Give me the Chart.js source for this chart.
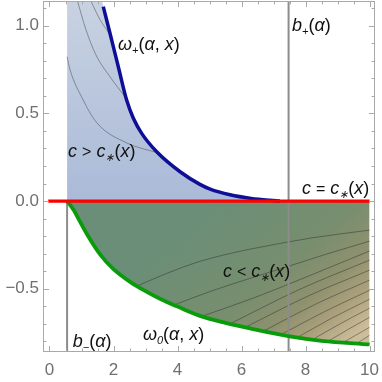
<!DOCTYPE html>
<html><head><meta charset="utf-8">
<script src="https://cdn.jsdelivr.net/npm/chart.js@4.4.1/dist/chart.umd.min.js"></script>
<style>html,body{margin:0;padding:0;background:#fff;}#c{display:block;}</style>
</head><body>
<canvas id="c" width="382" height="382"></canvas>
<script>
// ---- axis ranges and tick labels ----
const X_MIN = -0.203, X_MAX = 10.17, Y_MIN = -0.861, Y_MAX = 1.141;
const xMajorTicks = [0, 2, 4, 6, 8, 10];
const xTickLabels = ['0', '2', '4', '6', '8', '10'];
const yMajorTicks = [-0.5, 0, 0.5, 1.0];
const yTickLabels = ['\u22120.5', '0.0', '0.5', '1.0'];

// ---- vertical boundaries ----
const bMinus = 0.55;
const bPlus = 7.47;

// ---- omega_+ (upper boundary, blue) ----
const omegaPlusTopX = 1.64;
const omegaPlusX = [1.68, 1.89, 2.15, 2.41, 2.62, 2.88, 3.35, 4.08, 4.7, 5.02, 5.64, 6.3, 6.89, 7.2];
const omegaPlusY = [1.109, 0.957, 0.766, 0.576, 0.472, 0.386, 0.281, 0.167, 0.095, 0.068, 0.036, 0.015, 0.004, 0.0];

// ---- omega_0 (lower boundary, green) ----
const omega0X = [0.55, 0.75, 0.95, 1.2, 1.58, 2.0, 2.52, 3.0, 3.5, 4.0, 4.7, 5.5, 6.3, 7.5, 8.5, 10];
const omega0Y = [0, -0.05, -0.116, -0.198, -0.304, -0.388, -0.461, -0.514, -0.562, -0.602, -0.655, -0.695, -0.728, -0.772, -0.797, -0.818];

// ---- c = c*(x) ----
const cStarX = [-0.04, 10];
const cStarY = [0, 0];

// ---- contour lines, upper region ----
const upperContoursX = [
  [0.86, 1.14, 1.45, 1.89, 2.4],
  [1.27, 1.58, 1.85],
  [0.55, 0.64, 1.05, 1.48, 2.42, 3.36]
];
const upperContoursY = [
  [1.15, 0.977, 0.834, 0.709, 0.585],
  [1.15, 1.034, 0.96],
  [0.823, 0.75, 0.577, 0.446, 0.331, 0.276]
];

// ---- contour lines, lower region ----
const lowerContoursX = [
  [2.73, 3.7, 4.61, 5.5, 6.42, 8.2, 10],
  [3.86, 5.11, 6.42, 7.5, 8.7, 10],
  [4.8, 6.42, 8.2, 10],
  [5.64, 7.8, 10],
  [6.17, 8.1, 10],
  [6.7, 8.35, 10],
  [7.2, 8.6, 10],
  [7.7, 8.85, 10],
  [8.2, 9.1, 10],
  [8.7, 9.35, 10],
  [9.17, 10],
  [9.6, 10]
];
const lowerContoursY = [
  [-0.485, -0.41, -0.349, -0.305, -0.269, -0.21, -0.166],
  [-0.595, -0.51, -0.432, -0.37, -0.3, -0.229],
  [-0.655, -0.55, -0.42, -0.285],
  [-0.70, -0.505, -0.337],
  [-0.715, -0.54, -0.394],
  [-0.74, -0.585, -0.451],
  [-0.765, -0.63, -0.509],
  [-0.782, -0.665, -0.56],
  [-0.792, -0.698, -0.611],
  [-0.80, -0.73, -0.663],
  [-0.807, -0.72],
  [-0.812, -0.766]
];

// ---- text labels ----
const textLabels = [
  {x: 2.14, y: 0.861, parts: [['ω','i'],['+','s'],['(','n'],['α','i'],[', ','n'],['x','i'],[')','n']]},
  {x: 7.58, y: 0.97, parts: [['b','i'],['+','s'],['(','n'],['α','i'],[')','n']]},
  {x: 0.58, y: 0.251, parts: [['c','i'],['>','t'],['c','i'],['∗','s'],['(','n'],['x','i'],[')','n']]},
  {x: 7.89, y: 0.04, parts: [['c','i'],['=','t'],['c','i'],['∗','s'],['(','n'],['x','i'],[')','n']]},
  {x: 5.42, y: -0.434, parts: [['c','i'],['<','t'],['c','i'],['∗','s'],['(','n'],['x','i'],[')','n']]},
  {x: 0.73, y: -0.833, parts: [['b','i'],['\u2212','s'],['(','n'],['α','i'],[')','n']]},
  {x: 2.92, y: -0.793, parts: [['ω','i'],['0','s'],['(','n'],['α','i'],[', ','n'],['x','i'],[')','n']]}
];

const pts = (xs, ys) => xs.map((x, i) => ({x: x, y: ys[i]}));

function blueGrad(c) {
  const ch = c.chart;
  if (!ch.chartArea) return 'rgba(176,190,216,1)';
  const ys = ch.scales.y;
  const g = ch.ctx.createLinearGradient(0, ys.getPixelForValue(Y_MAX), 0, ys.getPixelForValue(0));
  g.addColorStop(0, 'rgb(200,210,225)');
  g.addColorStop(1, 'rgb(170,186,216)');
  return g;
}
function greenGrad(c) {
  const ch = c.chart;
  if (!ch.chartArea) return 'rgb(110,140,110)';
  const xs = ch.scales.x, ys = ch.scales.y;
  const g = ch.ctx.createLinearGradient(xs.getPixelForValue(5), ys.getPixelForValue(0),
                                        xs.getPixelForValue(9), ys.getPixelForValue(Y_MIN));
  g.addColorStop(0, 'rgb(106,142,120)');
  g.addColorStop(0.5, 'rgb(120,142,110)');
  g.addColorStop(0.7, 'rgb(142,145,110)');
  g.addColorStop(0.85, 'rgb(172,160,125)');
  g.addColorStop(1, 'rgb(205,190,155)');
  return g;
}

const base = {pointRadius: 0, pointHoverRadius: 0, fill: false, cubicInterpolationMode: 'monotone'};
const datasets = [];
datasets.push(Object.assign({}, base, {
  data: [{x: bMinus, y: Y_MAX}, {x: omegaPlusTopX, y: Y_MAX}].concat(pts(omegaPlusX, omegaPlusY)),
  borderWidth: 0, borderColor: 'rgba(0,0,0,0)', backgroundColor: blueGrad, fill: 'origin', order: 100
}));
datasets.push(Object.assign({}, base, {
  data: pts(omega0X, omega0Y), borderWidth: 0, borderColor: 'rgba(0,0,0,0)',
  backgroundColor: greenGrad, fill: 'origin', order: 99
}));
upperContoursX.forEach((xs, i) => datasets.push(Object.assign({}, base, {
  data: pts(xs, upperContoursY[i]), borderColor: 'rgba(70,70,70,0.5)', borderWidth: 1, order: 60
})));
lowerContoursX.forEach((xs, i) => datasets.push(Object.assign({}, base, {
  data: pts(xs, lowerContoursY[i]), borderColor: 'rgba(40,40,40,0.45)', borderWidth: 1, order: 60
})));
datasets.push(Object.assign({}, base, {
  data: [{x: bMinus, y: Y_MIN}, {x: bMinus, y: 0}], cubicInterpolationMode: 'default', tension: 0,
  borderColor: 'rgb(140,140,140)', borderWidth: 2, order: 40
}));
datasets.push(Object.assign({}, base, {
  data: [{x: bPlus, y: Y_MIN}, {x: bPlus, y: Y_MAX}], cubicInterpolationMode: 'default', tension: 0,
  borderColor: 'rgb(140,140,140)', borderWidth: 2, order: 40
}));
datasets.push(Object.assign({}, base, {
  data: pts(omegaPlusX, omegaPlusY), borderColor: 'rgb(14,14,150)', borderWidth: 3.5, order: 30
}));
datasets.push(Object.assign({}, base, {
  data: pts(omega0X, omega0Y), borderColor: 'rgb(10,155,10)', borderWidth: 3.8, order: 20
}));
datasets.push(Object.assign({}, base, {
  data: pts(cStarX, cStarY), borderColor: 'rgb(255,0,0)', borderWidth: 3.2, tension: 0,
  cubicInterpolationMode: 'default', order: 10
}));

const framePlugin = {
  id: 'frame',
  afterDatasetsDraw(chart) {
    const ctx = chart.ctx, a = chart.chartArea, xs = chart.scales.x, ys = chart.scales.y;
    ctx.save();
    ctx.strokeStyle = '#a9a9a9';
    ctx.lineWidth = 1;
    ctx.strokeRect(a.left + 0.5, a.top + 0.5, a.right - a.left - 1, a.bottom - a.top - 1);
    ctx.beginPath();
    for (let k = 0; k <= 20; k++) {
      const v = k * 0.5;
      const p = Math.round(xs.getPixelForValue(v)) + 0.5;
      const L = (k % 4 === 0) ? 6 : 3.5;
      ctx.moveTo(p, a.bottom); ctx.lineTo(p, a.bottom - L);
      ctx.moveTo(p, a.top); ctx.lineTo(p, a.top + L);
    }
    for (let k = -8; k <= 11; k++) {
      const v = k * 0.1;
      const p = Math.round(ys.getPixelForValue(v)) + 0.5;
      const L = (k % 5 === 0) ? 6 : 3.5;
      ctx.moveTo(a.left, p); ctx.lineTo(a.left + L, p);
      ctx.moveTo(a.right, p); ctx.lineTo(a.right - L, p);
    }
    ctx.stroke();
    ctx.restore();
  },
  afterDraw(chart) {
    const ctx = chart.ctx, xs = chart.scales.x, ys = chart.scales.y;
    const FAM = "'Liberation Sans', Arial, sans-serif";
    ctx.save();
    ctx.fillStyle = '#111';
    ctx.textBaseline = 'alphabetic';
    ctx.textAlign = 'left';
    textLabels.forEach(lab => {
      let px = xs.getPixelForValue(lab.x);
      const py = ys.getPixelForValue(lab.y);
      lab.parts.forEach(([t, st]) => {
        let dy = 0;
        if (st === 'i') ctx.font = 'italic 18px ' + FAM;
        else if (st === 's') { ctx.font = 'italic 11px ' + FAM; dy = 4; }
        else if (st === 't') ctx.font = '16px ' + FAM;
        else ctx.font = '18px ' + FAM;
        if (st === 't') {
          const w = ctx.measureText(t).width;
          px += 5;
          ctx.fillText(t, px, py + dy);
          px += w + 5;
        } else {
          ctx.fillText(t, px, py + dy);
          px += ctx.measureText(t).width;
        }
      });
    });
    ctx.restore();
  }
};

new Chart(document.getElementById('c'), {
  type: 'line',
  data: {datasets: datasets},
  options: {
    responsive: false, animation: false, devicePixelRatio: 1,
    layout: {padding: {top: 1, right: 7, left: 0, bottom: 0}},
    plugins: {legend: {display: false}, tooltip: {enabled: false}},
    scales: {
      x: {
        type: 'linear', min: X_MIN, max: X_MAX,
        grid: {display: false, drawTicks: false}, border: {display: false},
        afterBuildTicks: s => { s.ticks = xMajorTicks.map(v => ({value: v})); },
        afterFit: s => { s.height = 30; s.paddingLeft = 0; s.paddingRight = 0; s.paddingTop = 0; s.paddingBottom = 0; },
        ticks: {autoSkip: false, maxRotation: 0, padding: 8, color: '#707070',
          font: {size: 17, family: "'Liberation Sans', Arial, sans-serif"},
          callback: (v, i) => xTickLabels[i]}
      },
      y: {
        type: 'linear', min: Y_MIN, max: Y_MAX,
        grid: {display: false, drawTicks: false}, border: {display: false},
        afterBuildTicks: s => { s.ticks = yMajorTicks.map(v => ({value: v})); },
        afterFit: s => { s.width = 43; s.paddingLeft = 0; s.paddingRight = 0; s.paddingTop = 0; s.paddingBottom = 0; },
        ticks: {autoSkip: false, padding: 4, color: '#707070',
          font: {size: 17, family: "'Liberation Sans', Arial, sans-serif"},
          callback: (v, i) => yTickLabels[i]}
      }
    }
  },
  plugins: [framePlugin]
});
</script>
</body></html>
